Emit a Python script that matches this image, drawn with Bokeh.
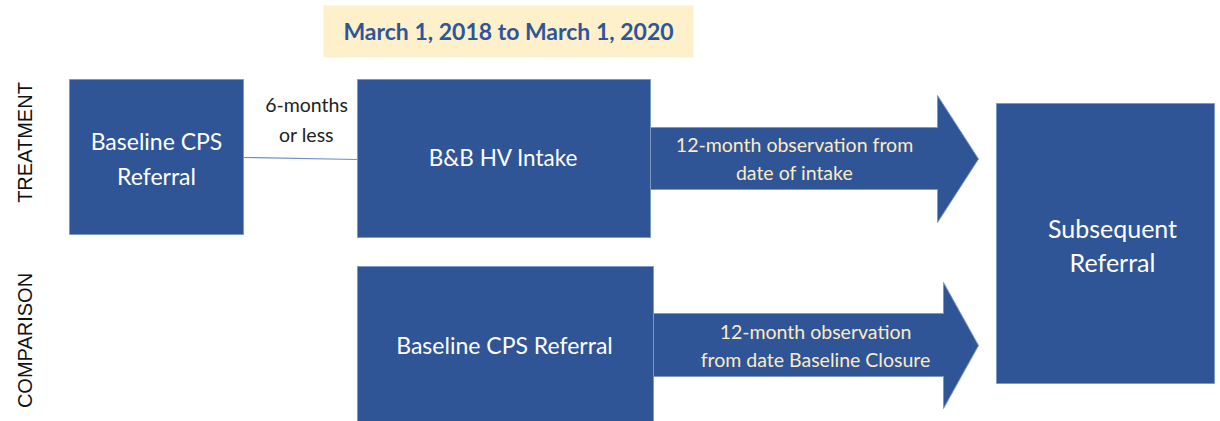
from bokeh.plotting import figure
from bokeh.models import Range1d
from bokeh.core.properties import value
from bokeh.embed import file_html
from bokeh.resources import INLINE
import math

# ---- diagram content (image pixel coordinates, y grows downward) ----
title_text = ["March 1, 2018 to March 1, 2020"]
title_box = dict(left=[323], right=[693], top=[5], bottom=[57])
title_pos = dict(x=[508], y=[30])

# rectangles: left, right, top, bottom
box_left = [69, 357, 357, 996]
box_right = [243, 650, 653, 1214]
box_top = [79, 79, 266, 103]
box_bottom = [234, 237, 421, 383]

box_lines = ["Baseline CPS", "Referral", "B&B HV Intake", "Baseline CPS Referral", "Subsequent", "Referral"]
box_line_x = [156, 156, 503, 504, 1112, 1112]
box_line_y = [140, 175, 157, 344, 227, 261]
box_line_size = ["23px", "23px", "22.5px", "23px", "25px", "25px"]

# arrows: shaft start, head base, tip x, shaft top/bottom, head top/bottom
arr_x0 = [648, 652]
arr_xb = [937, 943]
arr_tip = [978, 978]
arr_st = [127, 313]
arr_sb = [189, 376]
arr_ht = [95, 282]
arr_hb = [222, 408]

arrow_lines = ["12-month observation from", "date of intake", "12-month observation", "from date Baseline Closure"]
arrow_line_x = [794, 794, 815, 815]
arrow_line_y = [144, 172, 331, 359]

gap_lines = ["6-months", "or less"]
gap_x = [306, 306]
gap_y = [104, 134]
link_x = [243, 357]
link_y = [157, 159]

group_labels = ["TREATMENT", "COMPARISON"]
group_x = [24, 24]
group_y = [142, 340]

BLUE = "#2F5597"

p = figure(width=1220, height=421, output_backend="svg", toolbar_location=None,
           x_range=Range1d(0, 1220), y_range=Range1d(421, 0), min_border=0)
p.axis.visible = False
p.grid.visible = False
p.outline_line_color = None
p.background_fill_color = "white"

# title
p.quad(left=title_box["left"], right=title_box["right"], top=title_box["top"], bottom=title_box["bottom"],
       fill_color="#FDF0CB", line_color=None)
p.text(x=title_pos["x"], y=title_pos["y"], text=title_text, text_font=value("Lato"),
       text_font_style="bold", text_font_size="23px", text_color=BLUE,
       text_align="center", text_baseline="middle")

# connector line
p.line(x=link_x, y=link_y, line_color="#6C8FCB", line_width=1.2)

# arrows
xs, ys = [], []
for i in range(len(arr_x0)):
    mid = (arr_ht[i] + arr_hb[i]) / 2
    xs.append([arr_x0[i], arr_xb[i], arr_xb[i], arr_tip[i], arr_xb[i], arr_xb[i], arr_x0[i]])
    ys.append([arr_st[i], arr_st[i], arr_ht[i], mid, arr_hb[i], arr_sb[i], arr_sb[i]])
p.patches(xs=xs, ys=ys, fill_color=BLUE, line_color="#7D97C6", line_width=1)

# boxes
p.quad(left=box_left, right=box_right, top=box_top, bottom=box_bottom,
       fill_color=BLUE, line_color="#7D97C6", line_width=1)

p.text(x="x", y="y", text="t", text_font_size="s",
       source=dict(x=box_line_x, y=box_line_y, t=box_lines, s=box_line_size),
       text_font=value("Lato"), text_color="white",
       text_align="center", text_baseline="middle")

p.text(x=arrow_line_x, y=arrow_line_y, text=arrow_lines, text_font=value("Lato"),
       text_font_size="19.5px", text_color="#FCEBC3",
       text_align="center", text_baseline="middle")

p.text(x=gap_x, y=gap_y, text=gap_lines, text_font=value("Lato"),
       text_font_size="19.5px", text_color="#222222",
       text_align="center", text_baseline="middle")

p.text(x=group_x, y=group_y, text=group_labels, text_font=value("Liberation Sans"),
       text_font_size="20px", text_color="#111111", angle=math.pi / 2,
       text_align="center", text_baseline="middle")

open("out.html", "w").write(file_html(p, INLINE))
